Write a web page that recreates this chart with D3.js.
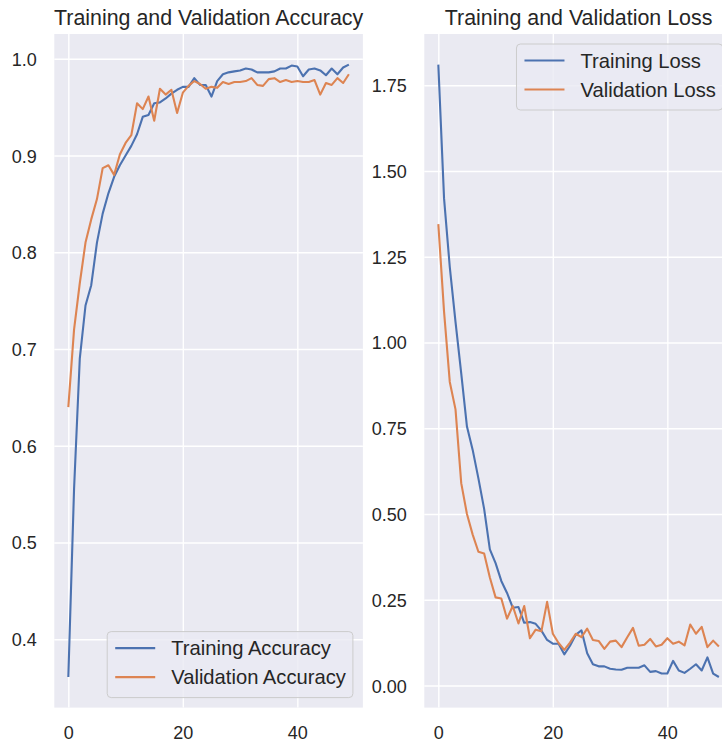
<!DOCTYPE html>
<html>
<head>
<meta charset="utf-8">
<script src="https://cdn.jsdelivr.net/npm/d3@7"></script>
<style>
  body { margin: 0; background: #fff; }
  svg { display: block; font-family: "Liberation Sans", Arial, sans-serif; }
</style>
</head>
<body>
<svg id="chart" width="722" height="745"></svg>
<script>
// values, one per epoch (0..49)
const trainAcc = [0.361, 0.555, 0.690, 0.745, 0.766, 0.810, 0.840, 0.861, 0.878, 0.890,
  0.900, 0.910, 0.922, 0.940, 0.942, 0.954, 0.955, 0.959, 0.964, 0.968,
  0.971, 0.971, 0.980, 0.973, 0.973, 0.961, 0.977, 0.984, 0.986, 0.987,
  0.988, 0.990, 0.989, 0.986, 0.986, 0.986, 0.987, 0.990, 0.990, 0.993,
  0.992, 0.982, 0.989, 0.990, 0.988, 0.983, 0.990, 0.984, 0.991, 0.994];
const valAcc = [0.640, 0.720, 0.768, 0.810, 0.834, 0.855, 0.887, 0.890, 0.880, 0.901,
  0.913, 0.921, 0.954, 0.948, 0.961, 0.936, 0.969, 0.963, 0.968, 0.944,
  0.965, 0.972, 0.977, 0.974, 0.969, 0.971, 0.970, 0.976, 0.974, 0.976,
  0.976, 0.977, 0.980, 0.973, 0.972, 0.979, 0.980, 0.976, 0.978, 0.976,
  0.977, 0.976, 0.976, 0.978, 0.963, 0.975, 0.973, 0.980, 0.975, 0.984];
const trainLoss = [1.810, 1.420, 1.220, 1.060, 0.910, 0.755, 0.687, 0.604, 0.515, 0.397,
  0.357, 0.305, 0.270, 0.227, 0.229, 0.183, 0.185, 0.180, 0.160, 0.133,
  0.122, 0.122, 0.091, 0.116, 0.148, 0.161, 0.094, 0.062, 0.056, 0.056,
  0.049, 0.047, 0.046, 0.052, 0.052, 0.052, 0.059, 0.040, 0.042, 0.035,
  0.035, 0.072, 0.044, 0.037, 0.049, 0.062, 0.044, 0.082, 0.035, 0.025];
const valLoss = [1.345, 1.090, 0.885, 0.805, 0.590, 0.500, 0.440, 0.390, 0.385, 0.315,
  0.257, 0.254, 0.195, 0.232, 0.181, 0.232, 0.138, 0.163, 0.158, 0.244,
  0.151, 0.124, 0.104, 0.125, 0.151, 0.141, 0.166, 0.133, 0.130, 0.107,
  0.128, 0.131, 0.112, 0.141, 0.168, 0.116, 0.119, 0.136, 0.114, 0.119,
  0.138, 0.122, 0.128, 0.117, 0.178, 0.151, 0.171, 0.112, 0.131, 0.114];

const epochs = d3.range(trainAcc.length);
const epochTicks = [0, 20, 40];
const accTicks = [0.4, 0.5, 0.6, 0.7, 0.8, 0.9, 1.0];
const lossTicks = [0, 0.25, 0.5, 0.75, 1.0, 1.25, 1.5, 1.75];

const BLUE = '#4C72B0';
const ORANGE = '#DD8452';
const TEXT = '#262626';

const svg = d3.select('#chart');
const plotTop = 34, plotBottom = 707.6;

// matplotlib style 5% margins
function padded(values) {
  const [lo, hi] = d3.extent(values);
  const m = (hi - lo) * 0.05;
  return [lo - m, hi + m];
}

function drawPanel(cfg) {
  const w = cfg.right - cfg.left;
  const h = plotBottom - plotTop;
  const g = svg.append('g').attr('transform', `translate(${cfg.left},${plotTop})`);

  const x = d3.scaleLinear().domain(padded(epochs)).range([0, w]);
  const y = d3.scaleLinear()
    .domain(padded(cfg.series[0].values.concat(cfg.series[1].values)))
    .range([h, 0]);

  g.append('rect').attr('width', w).attr('height', h).attr('fill', '#EAEAF2');

  // grid + tick labels from the axes
  const yAxis = g.append('g')
    .call(d3.axisLeft(y).tickValues(cfg.yTicks).tickFormat(d3.format(cfg.yFormat))
      .tickSize(-w).tickPadding(17.5));
  const xAxis = g.append('g').attr('transform', `translate(0,${h})`)
    .call(d3.axisBottom(x).tickValues(epochTicks).tickFormat(d3.format('d'))
      .tickSize(-h).tickPadding(18.3));

  [xAxis, yAxis].forEach(ax => {
    ax.select('.domain').remove();
    ax.selectAll('line').attr('stroke', '#fff').attr('stroke-width', 1.4);
    ax.selectAll('text').attr('fill', TEXT).style('font-size', '18px')
      .style('font-family', '"Liberation Sans", Arial, sans-serif');
  });
  yAxis.selectAll('text').attr('dy', '0.36em');

  const line = d3.line().x((d, i) => x(epochs[i])).y(d => y(d));
  cfg.series.forEach(s => {
    g.append('path')
      .attr('d', line(s.values))
      .attr('fill', 'none')
      .attr('stroke', s.color)
      .attr('stroke-width', 2.1)
      .attr('stroke-linejoin', 'round');
  });

  // title
  g.append('text')
    .attr('x', w / 2).attr('y', 25 - plotTop)
    .attr('text-anchor', 'middle')
    .attr('fill', TEXT)
    .style('font-size', '21.4px')
    .text(cfg.title);

  // legend
  const lg = g.append('g');
  const texts = cfg.series.map(s => lg.append('text')
    .attr('fill', TEXT).style('font-size', '20.2px').text(s.label));
  const textW = d3.max(texts, t => t.node().getComputedTextLength());
  const boxW = 71 + textW, boxH = 66;
  const bx = w - 10 - boxW;
  const by = cfg.legendCorner === 'lower' ? h - 10 - boxH : 10;

  lg.insert('rect', 'text')
    .attr('x', bx).attr('y', by).attr('width', boxW).attr('height', boxH)
    .attr('rx', 4)
    .attr('fill', '#EAEAF2').attr('fill-opacity', 0.8)
    .attr('stroke', '#cccccc').attr('stroke-width', 1);

  cfg.series.forEach((s, i) => {
    const cy = by + 16.5 + i * 29;
    lg.append('line')
      .attr('x1', bx + 8).attr('x2', bx + 48)
      .attr('y1', cy).attr('y2', cy)
      .attr('stroke', s.color).attr('stroke-width', 2.1);
    texts[i].attr('x', bx + 64).attr('y', cy + 7);
  });
}

drawPanel({
  left: 54.3, right: 362.9,
  title: 'Training and Validation Accuracy',
  yTicks: accTicks, yFormat: '.1f',
  legendCorner: 'lower',
  series: [
    { label: 'Training Accuracy', values: trainAcc, color: BLUE },
    { label: 'Validation Accuracy', values: valAcc, color: ORANGE }
  ]
});

drawPanel({
  left: 424.3, right: 732.9,
  title: 'Training and Validation Loss',
  yTicks: lossTicks, yFormat: '.2f',
  legendCorner: 'upper',
  series: [
    { label: 'Training Loss', values: trainLoss, color: BLUE },
    { label: 'Validation Loss', values: valLoss, color: ORANGE }
  ]
});
</script>
</body>
</html>
